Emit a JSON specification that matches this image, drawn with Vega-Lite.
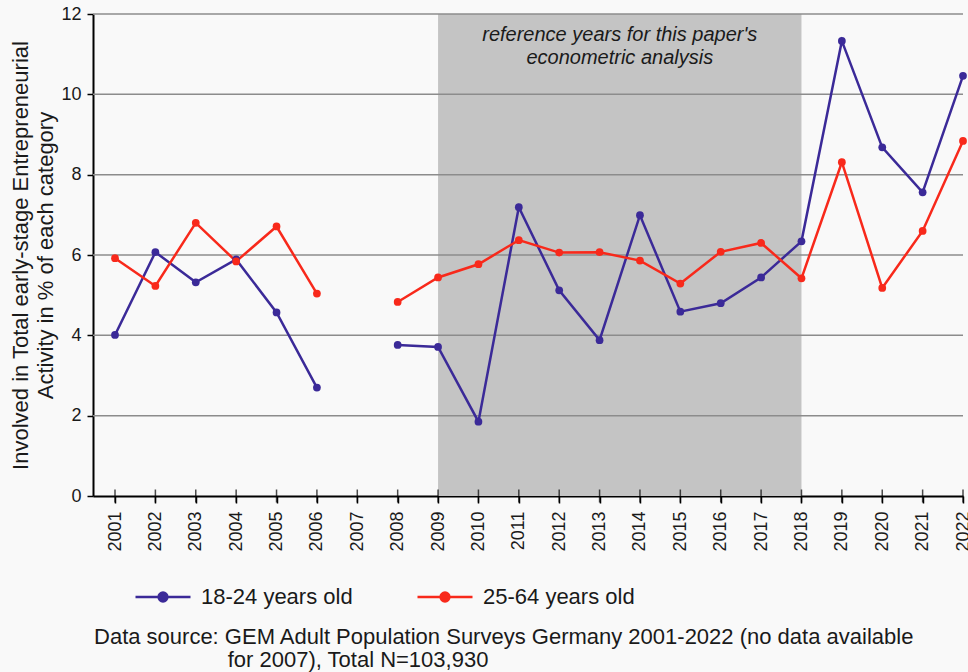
{
  "$schema": "https://vega.github.io/schema/vega-lite/v6.json",
  "width": 870,
  "height": 482,
  "autosize": "none",
  "padding": {"left": 93, "top": 14, "right": 5, "bottom": 176},
  "background": "#f9f9f9",
  "config": {
    "view": {"stroke": null},
    "font": "Liberation Sans",
    "axis": {"labelColor": "#1a1a1a", "titleColor": "#1a1a1a", "labelFont": "Liberation Sans", "titleFont": "Liberation Sans"},
    "legend": {"labelFont": "Liberation Sans"}
  },
  "resolve": {"axis": {"x": "independent", "y": "independent"}},
  "datasets": {
    "tea": [
      {"year": 2001, "group": "18-24 years old", "value": 4.01},
      {"year": 2002, "group": "18-24 years old", "value": 6.07},
      {"year": 2003, "group": "18-24 years old", "value": 5.32},
      {"year": 2004, "group": "18-24 years old", "value": 5.89},
      {"year": 2005, "group": "18-24 years old", "value": 4.57},
      {"year": 2006, "group": "18-24 years old", "value": 2.70},
      {"year": 2007, "group": "18-24 years old", "value": null},
      {"year": 2008, "group": "18-24 years old", "value": 3.76},
      {"year": 2009, "group": "18-24 years old", "value": 3.71},
      {"year": 2010, "group": "18-24 years old", "value": 1.85},
      {"year": 2011, "group": "18-24 years old", "value": 7.19},
      {"year": 2012, "group": "18-24 years old", "value": 5.12},
      {"year": 2013, "group": "18-24 years old", "value": 3.88},
      {"year": 2014, "group": "18-24 years old", "value": 6.99},
      {"year": 2015, "group": "18-24 years old", "value": 4.59},
      {"year": 2016, "group": "18-24 years old", "value": 4.80},
      {"year": 2017, "group": "18-24 years old", "value": 5.44},
      {"year": 2018, "group": "18-24 years old", "value": 6.34},
      {"year": 2019, "group": "18-24 years old", "value": 11.33},
      {"year": 2020, "group": "18-24 years old", "value": 8.68},
      {"year": 2021, "group": "18-24 years old", "value": 7.56},
      {"year": 2022, "group": "18-24 years old", "value": 10.46},
      {"year": 2001, "group": "25-64 years old", "value": 5.92},
      {"year": 2002, "group": "25-64 years old", "value": 5.23},
      {"year": 2003, "group": "25-64 years old", "value": 6.80},
      {"year": 2004, "group": "25-64 years old", "value": 5.84},
      {"year": 2005, "group": "25-64 years old", "value": 6.71},
      {"year": 2006, "group": "25-64 years old", "value": 5.04},
      {"year": 2007, "group": "25-64 years old", "value": null},
      {"year": 2008, "group": "25-64 years old", "value": 4.83},
      {"year": 2009, "group": "25-64 years old", "value": 5.44},
      {"year": 2010, "group": "25-64 years old", "value": 5.77},
      {"year": 2011, "group": "25-64 years old", "value": 6.37},
      {"year": 2012, "group": "25-64 years old", "value": 6.06},
      {"year": 2013, "group": "25-64 years old", "value": 6.07},
      {"year": 2014, "group": "25-64 years old", "value": 5.86},
      {"year": 2015, "group": "25-64 years old", "value": 5.29},
      {"year": 2016, "group": "25-64 years old", "value": 6.08},
      {"year": 2017, "group": "25-64 years old", "value": 6.30},
      {"year": 2018, "group": "25-64 years old", "value": 5.42},
      {"year": 2019, "group": "25-64 years old", "value": 8.31},
      {"year": 2020, "group": "25-64 years old", "value": 5.18},
      {"year": 2021, "group": "25-64 years old", "value": 6.60},
      {"year": 2022, "group": "25-64 years old", "value": 8.84}
    ]
  },
  "layer": [
    {
      "data": {"values": [{"from": 2009, "to": 2018}]},
      "mark": {"type": "rect", "color": "#c4c4c4"},
      "encoding": {
        "x": {"field": "from", "type": "quantitative", "scale": {"domain": [2000.455, 2022], "nice": false, "zero": false}, "axis": null},
        "x2": {"field": "to"}
      }
    },
    {
      "data": {"values": [{"v": 2}, {"v": 4}, {"v": 6}, {"v": 8}, {"v": 10}, {"v": 12}]},
      "mark": {"type": "rule", "color": "#8c8c8c", "strokeWidth": 1.5},
      "encoding": {
        "y": {"field": "v", "type": "quantitative", "scale": {"domain": [0, 12], "nice": false, "zero": false}, "axis": null}
      }
    },
    {
      "data": {"name": "tea"},
      "mark": {"type": "line", "strokeWidth": 2.5, "invalid": "break-paths-filter-domains"},
      "encoding": {
        "x": {
          "field": "year", "type": "quantitative",
          "scale": {"domain": [2000.455, 2022], "nice": false, "zero": false},
          "axis": {
            "values": [2001, 2002, 2003, 2004, 2005, 2006, 2007, 2008, 2009, 2010, 2011, 2012, 2013, 2014, 2015, 2016, 2017, 2018, 2019, 2020, 2021, 2022],
            "format": "d", "labelAngle": 270, "labelFontSize": 18, "labelPadding": 8,
            "tickSize": 7, "tickColor": "#000", "tickWidth": 1.5,
            "domainColor": "#000", "domainWidth": 2, "grid": false, "title": null,
            "labelFlush": false, "labelOverlap": false, "labelBound": false
          }
        },
        "y": {
          "field": "value", "type": "quantitative",
          "scale": {"domain": [0, 12], "nice": false, "zero": false},
          "axis": {
            "values": [0, 2, 4, 6, 8, 10, 12], "grid": false,
            "tickSize": 6, "tickColor": "#000", "tickWidth": 1.5,
            "domainColor": "#000", "domainWidth": 2,
            "labelFontSize": 18, "labelPadding": 6, "labelFlush": false,
            "title": ["Involved in Total early-stage Entrepreneurial", "Activity in % of each category"],
            "titleFontSize": 22, "titleFontWeight": "normal", "titleLineHeight": 25,
            "titleAngle": 270, "titleX": -72.5, "titleY": 241, "titleBaseline": "middle", "titleAlign": "center"
          }
        },
        "color": {
          "field": "group", "type": "nominal",
          "scale": {"domain": ["18-24 years old", "25-64 years old"], "range": ["#3b2a98", "#f8291b"]},
          "legend": {
            "orient": "none", "legendX": 41, "legendY": 554, "direction": "horizontal", "title": null,
            "padding": 0,
            "symbolType": "M-1,0H1M-0.16,0A0.16,0.16 0 1,1 0.16,0A0.16,0.16 0 1,1 -0.16,0Z",
            "symbolSize": 3025, "symbolStrokeWidth": 2.5,
            "labelFontSize": 22, "labelColor": "#1a1a1a", "labelLimit": 400,
            "labelOffset": 9, "columnPadding": 59,
            "encode": {"symbols": {"update": {"fill": {"scale": "color", "field": "value"}}}}
          }
        }
      }
    },
    {
      "data": {"name": "tea"},
      "transform": [{"filter": "datum.value != null"}],
      "mark": {"type": "point", "filled": true, "size": 60, "opacity": 1},
      "encoding": {
        "x": {"field": "year", "type": "quantitative", "scale": {"domain": [2000.455, 2022], "nice": false, "zero": false}, "axis": null},
        "y": {"field": "value", "type": "quantitative", "scale": {"domain": [0, 12], "nice": false, "zero": false}, "axis": null},
        "color": {"field": "group", "type": "nominal", "legend": null}
      }
    },
    {
      "data": {"name": "tea"},
      "transform": [{"filter": "datum.group == '18-24 years old'"}],
      "mark": {"type": "tick", "orient": "vertical", "size": 13, "thickness": 1.5, "color": "#000"},
      "encoding": {
        "x": {"field": "year", "type": "quantitative", "scale": {"domain": [2000.455, 2022], "nice": false, "zero": false}, "axis": null},
        "y": {"datum": 0, "type": "quantitative", "scale": {"domain": [0, 12], "nice": false, "zero": false}, "axis": null}
      }
    },
    {
      "data": {"values": [{}]},
      "mark": {"type": "text", "text": "reference years for this paper's", "fontSize": 20, "fontStyle": "italic", "color": "#1a1a1a", "align": "center", "baseline": "middle"},
      "encoding": {
        "x": {"datum": 2013.5, "type": "quantitative", "scale": {"domain": [2000.455, 2022], "nice": false, "zero": false}, "axis": null},
        "y": {"datum": 11.48, "type": "quantitative", "scale": {"domain": [0, 12], "nice": false, "zero": false}, "axis": null}
      }
    },
    {
      "data": {"values": [{}]},
      "mark": {"type": "text", "text": "econometric analysis", "fontSize": 20, "fontStyle": "italic", "color": "#1a1a1a", "align": "center", "baseline": "middle"},
      "encoding": {
        "x": {"datum": 2013.5, "type": "quantitative", "scale": {"domain": [2000.455, 2022], "nice": false, "zero": false}, "axis": null},
        "y": {"datum": 10.9, "type": "quantitative", "scale": {"domain": [0, 12], "nice": false, "zero": false}, "axis": null}
      }
    },
    {
      "data": {"values": [{}]},
      "mark": {"type": "text", "text": "Data source: GEM Adult Population Surveys Germany 2001-2022 (no data available", "fontSize": 22, "color": "#1a1a1a", "align": "left", "baseline": "alphabetic"},
      "encoding": {
        "x": {"datum": 2000.48, "type": "quantitative", "scale": {"domain": [2000.455, 2022], "nice": false, "zero": false}, "axis": null},
        "y": {"datum": -3.68, "type": "quantitative", "scale": {"domain": [0, 12], "nice": false, "zero": false}, "axis": null}
      }
    },
    {
      "data": {"values": [{}]},
      "mark": {"type": "text", "text": "for 2007), Total N=103,930", "fontSize": 22, "color": "#1a1a1a", "align": "left", "baseline": "alphabetic"},
      "encoding": {
        "x": {"datum": 2003.79, "type": "quantitative", "scale": {"domain": [2000.455, 2022], "nice": false, "zero": false}, "axis": null},
        "y": {"datum": -4.26, "type": "quantitative", "scale": {"domain": [0, 12], "nice": false, "zero": false}, "axis": null}
      }
    }
  ]
}
